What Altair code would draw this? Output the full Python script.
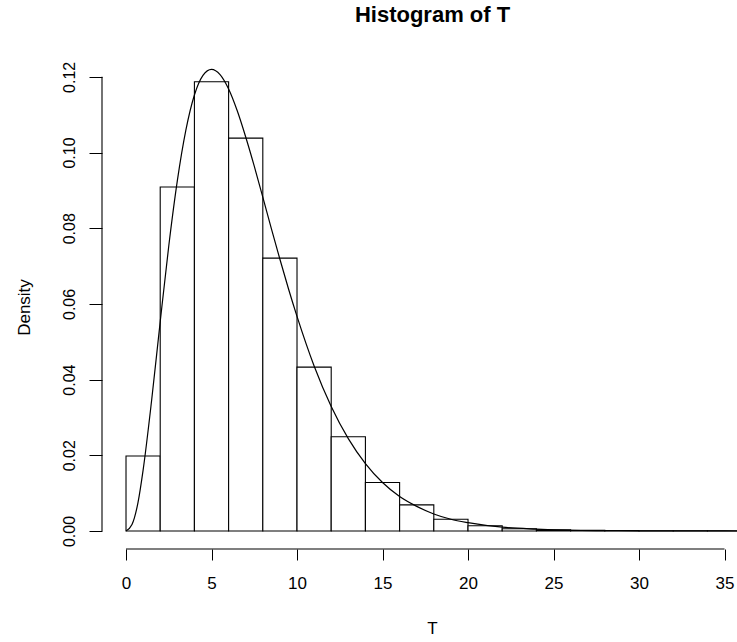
import altair as alt
import pandas as pd

# Histogram of T: bin edges (width 2) and density heights
bin_start = [0, 2, 4, 6, 8, 10, 12, 14, 16, 18, 20, 22, 24, 26, 28, 30, 32, 34, 36]
bin_density = [0.0198, 0.0909, 0.1187, 0.1038, 0.0721, 0.0433, 0.0249, 0.0128,
               0.0069, 0.0031, 0.0014, 0.0006, 0.0003, 0.0002, 0.0001, 0.00005,
               0.00003, 0.00002, 0.00001]

# Overlaid density curve
curve_t = [0, 0.35, 0.7, 1, 1.5, 2, 2.5, 3, 3.5, 4, 4.5, 5, 5.5, 6, 6.5, 7, 7.5, 8, 8.5,
           9, 9.5, 10, 11, 12, 13, 14, 15, 16, 17, 18, 19, 20, 22, 24, 26, 28, 30,
           32, 34, 36]
curve_density = [0, 0.0017, 0.0075, 0.0161, 0.0346, 0.0553, 0.0753, 0.0925, 0.1059,
                 0.1152, 0.1204, 0.1220, 0.1206, 0.1168, 0.1111, 0.1041, 0.0964,
                 0.0882, 0.0799, 0.0718, 0.0640, 0.0567, 0.0436, 0.0329, 0.0244,
                 0.0178, 0.0128, 0.0091, 0.0065, 0.0045, 0.0031, 0.0022, 0.0010,
                 0.0005, 0.0002, 0.0001, 0.00004, 0.00002, 0.00001, 0.0]

x_ticks = [0, 5, 10, 15, 20, 25, 30, 35]
y_ticks = [0.00, 0.02, 0.04, 0.06, 0.08, 0.10, 0.12]

bins = pd.DataFrame({
    "start": bin_start,
    "end": [b + 2 for b in bin_start],
    "density": bin_density,
})
curve = pd.DataFrame({"T": curve_t, "Density": curve_density})

W, H = 635, 485
FONT = "Liberation Sans"

x_scale = alt.Scale(domain=[-1.404, 35.73], nice=False, zero=False)
y_scale = alt.Scale(domain=[-0.00476, 0.1234], nice=False, zero=False)

x_axis = alt.Axis(
    values=x_ticks, domain=False, grid=False, tickColor="black", tickSize=11,
    labelFontSize=17, labelFont=FONT, labelColor="black", labelPadding=23,
    labelBaseline="middle", labelFlush=False,
    title="T", titleFont=FONT, titleFontSize=17, titleFontWeight="normal",
    titleColor="black", titleX=330, titleY=79, titleBaseline="middle",
)
y_axis = alt.Axis(
    values=y_ticks, format=".2f", domain=False, grid=False, tickColor="black",
    tickSize=13, labelAngle=270, labelAlign="center", labelBaseline="middle",
    labelFontSize=16, labelFont=FONT, labelColor="black", labelPadding=20,
    labelFlush=False,
    title="Density", titleFont=FONT, titleFontSize=17, titleFontWeight="normal",
    titleColor="black", titleAngle=270, titleX=-78, titleY=243,
    titleAlign="center", titleBaseline="middle",
)

bars = alt.Chart(bins).mark_rect(
    fill="white", stroke="black", strokeWidth=1.1, clip=True
).encode(
    x=alt.X("start:Q", scale=x_scale, axis=x_axis),
    x2="end:Q",
    y=alt.Y("density:Q", scale=y_scale, axis=y_axis),
    y2=alt.datum(0),
)

line = alt.Chart(curve).mark_line(
    color="black", strokeWidth=1.2, clip=True, interpolate="monotone"
).encode(
    x=alt.X("T:Q", scale=x_scale),
    y=alt.Y("Density:Q", scale=y_scale),
)

# Axis lines spanning only the tick range
x_line = alt.Chart(pd.DataFrame({"a": [0], "b": [35]})).mark_rule(
    color="black", strokeWidth=1.1
).encode(x=alt.X("a:Q", scale=x_scale), x2="b:Q", y=alt.value(H))

y_line = alt.Chart(pd.DataFrame({"a": [0.0], "b": [0.12]})).mark_rule(
    color="black", strokeWidth=1.1
).encode(y=alt.Y("a:Q", scale=y_scale), y2="b:Q", x=alt.value(0))

chart = alt.layer(bars, line, x_line, y_line).properties(
    width=W,
    height=H,
    background="white",
    title=alt.TitleParams(
        "Histogram of T", font=FONT, fontSize=22, fontWeight="bold",
        color="black", anchor="middle", dx=13, offset=17,
        baseline="alphabetic",
    ),
    autosize=alt.AutoSizeParams(type="none"),
    padding={"left": 102, "top": 64, "right": 0, "bottom": 93},
).configure_view(strokeWidth=0)

chart.save("out.html", embed_options={"renderer": "svg", "actions": False})
